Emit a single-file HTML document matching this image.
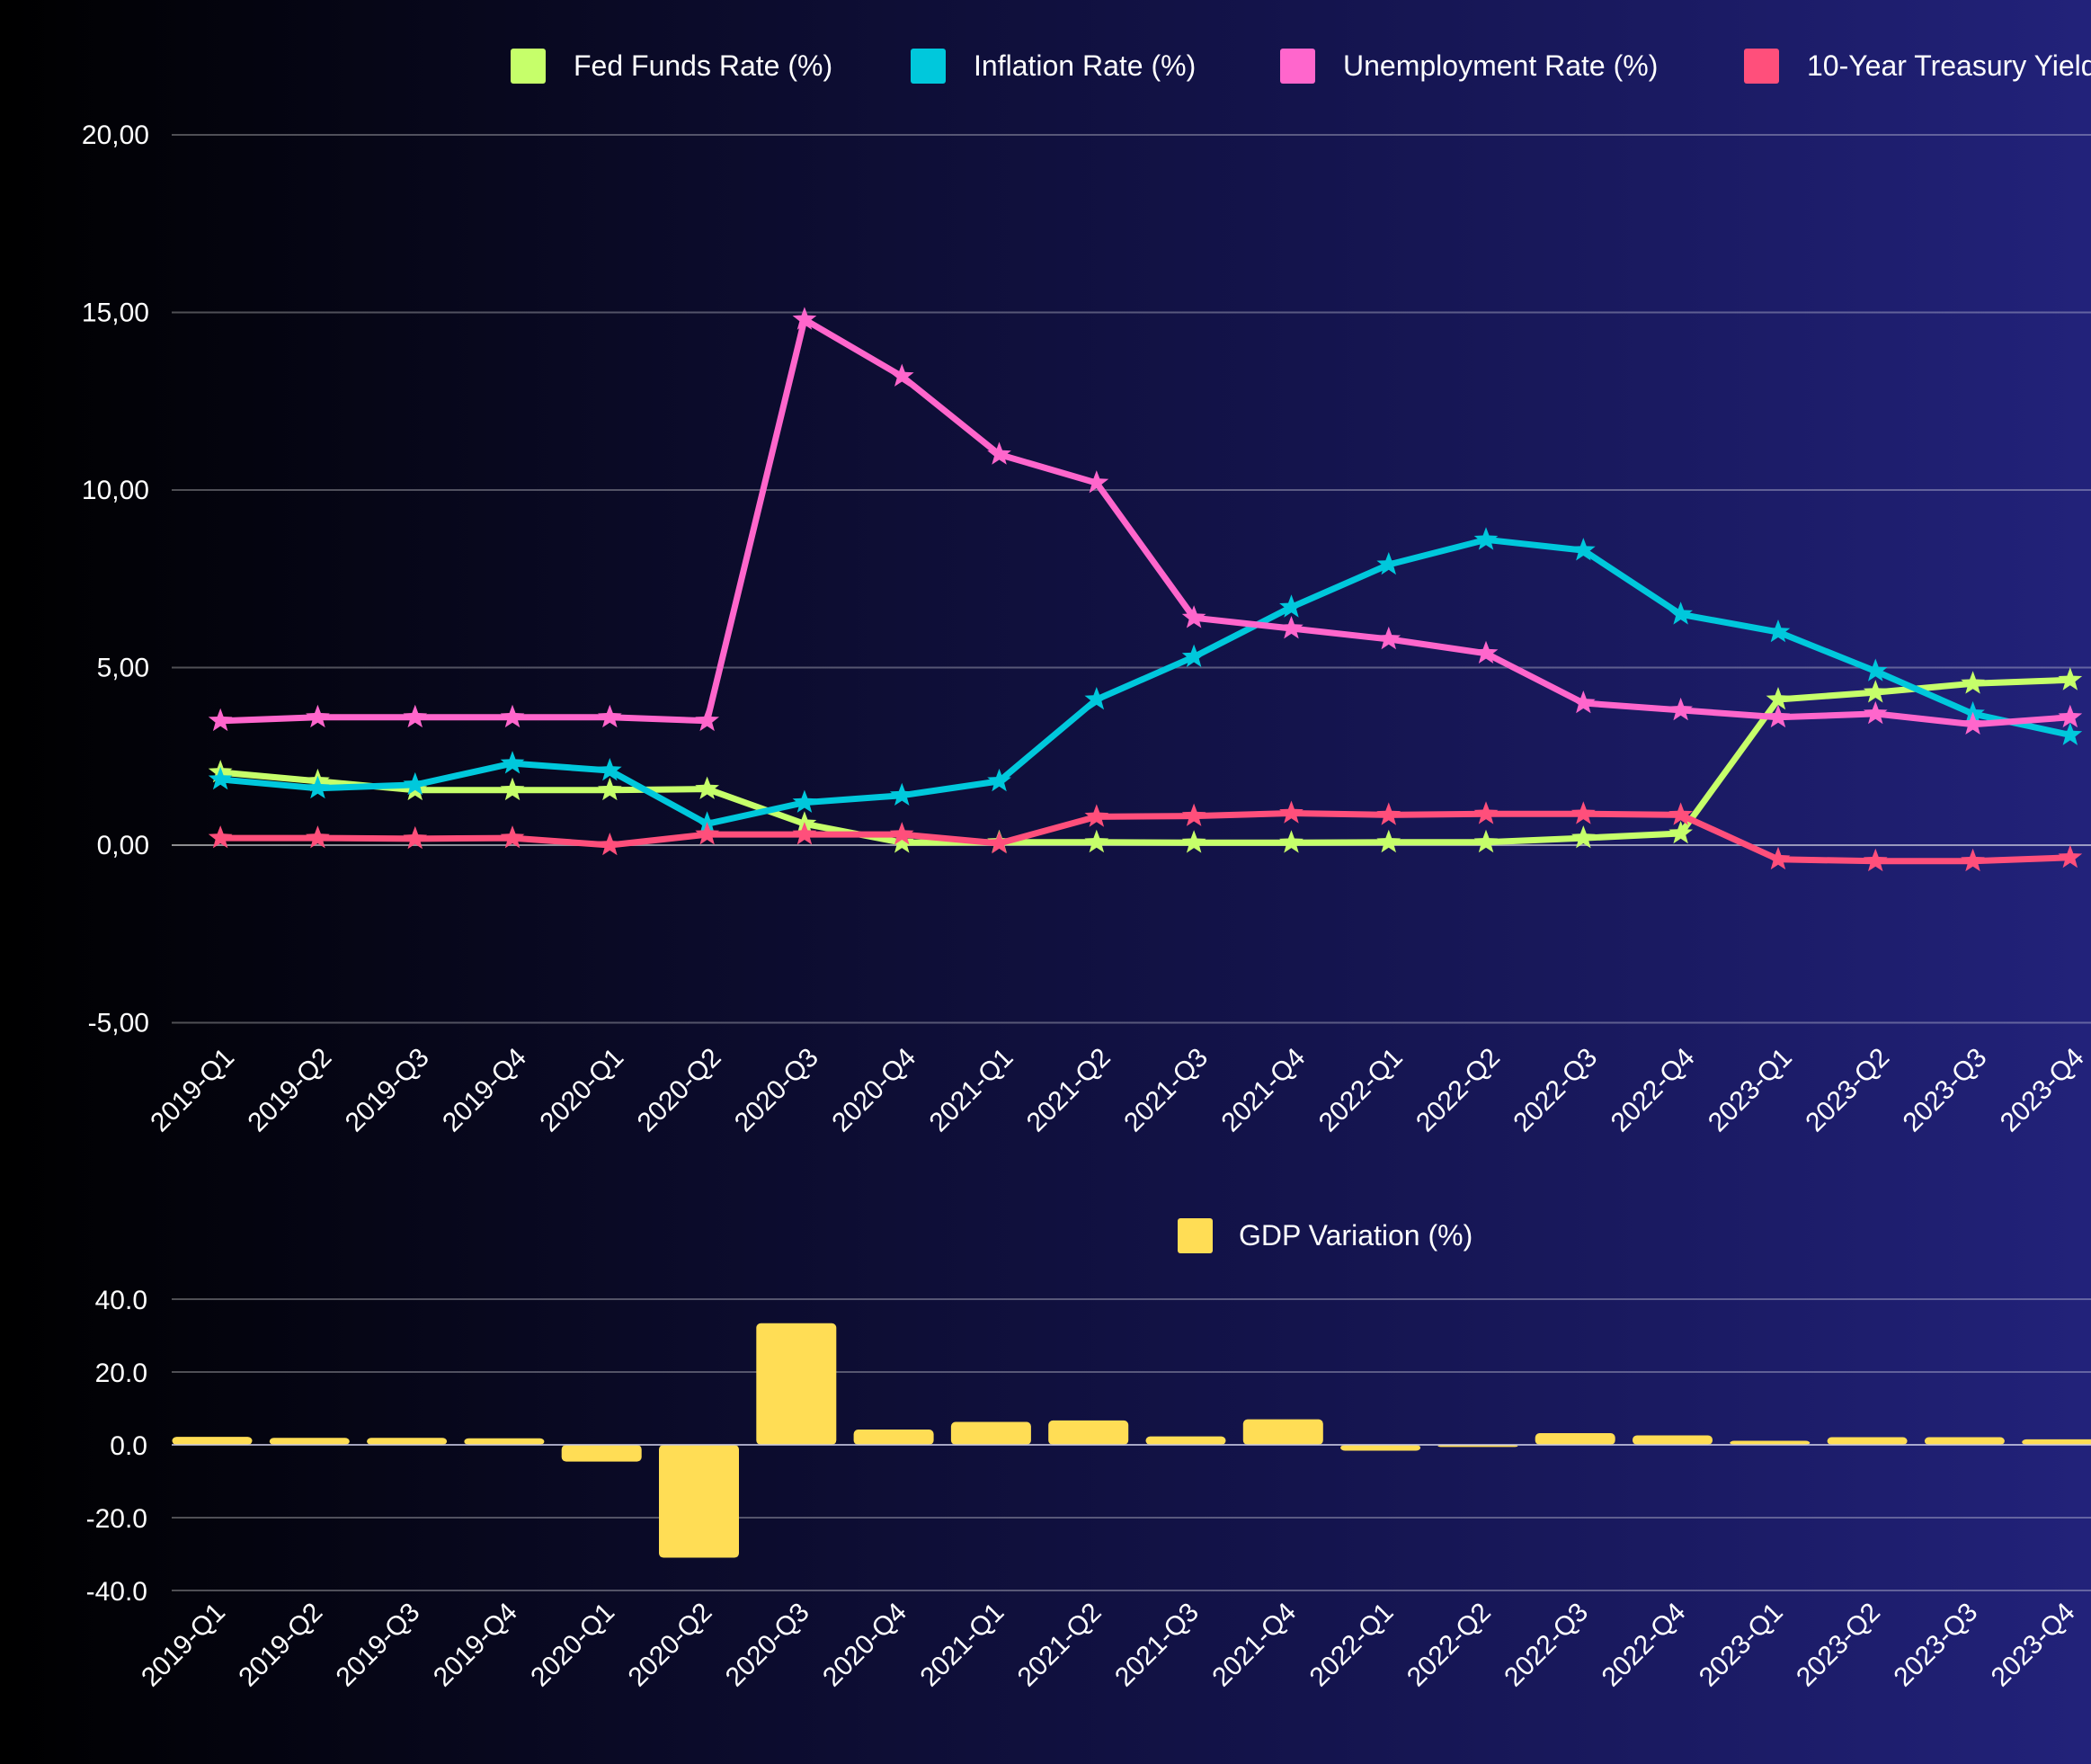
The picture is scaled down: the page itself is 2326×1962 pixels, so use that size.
<!DOCTYPE html>
<html><head><meta charset="utf-8">
<style>
html,body{margin:0;padding:0;width:2326px;height:1962px;overflow:hidden;background:linear-gradient(90deg,#000000 0%,#0a0a26 30%,#13134a 60%,#1c1c68 85%,#22227a 100%);font-family:"Liberation Sans",sans-serif;}
svg{position:absolute;left:0;top:0;}
text{font-family:"Liberation Sans",sans-serif;fill:#ffffff;}
</style></head>
<body>
<svg id="chart" width="2326" height="1962"></svg>
<script>
const categories=["2019-Q1","2019-Q2","2019-Q3","2019-Q4","2020-Q1","2020-Q2","2020-Q3","2020-Q4","2021-Q1","2021-Q2","2021-Q3","2021-Q4","2022-Q1","2022-Q2","2022-Q3","2022-Q4","2023-Q1","2023-Q2","2023-Q3","2023-Q4"];
const fedFunds=[2.05,1.8,1.55,1.55,1.55,1.58,0.6,0.07,0.08,0.08,0.07,0.07,0.08,0.08,0.2,0.33,4.1,4.3,4.55,4.65];
const inflation=[1.85,1.6,1.7,2.3,2.1,0.6,1.2,1.4,1.8,4.1,5.3,6.7,7.9,8.6,8.3,6.5,6.0,4.9,3.7,3.1];
const unemployment=[3.5,3.6,3.6,3.6,3.6,3.5,14.8,13.2,11.0,10.2,6.4,6.1,5.8,5.4,4.0,3.8,3.6,3.7,3.4,3.6];
const treasury=[0.2,0.2,0.18,0.2,0.0,0.3,0.3,0.3,0.05,0.8,0.82,0.9,0.85,0.88,0.88,0.85,-0.4,-0.45,-0.45,-0.35];
const gdp=[2.2,1.9,1.9,1.8,-4.6,-31.0,33.4,4.2,6.3,6.7,2.3,7.0,-1.6,-0.6,3.2,2.6,1.1,2.1,2.1,1.5];
const topTicks=[20,15,10,5,0,-5];
const topTickLabels=["20,00","15,00","10,00","5,00","0,00","-5,00"];
const botTicks=[40,20,0,-20,-40];
const botTickLabels=["40.0","20.0","0.0","-20.0","-40.0"];
const seriesNames=["Fed Funds Rate (%)","Inflation Rate (%)","Unemployment Rate (%)","10-Year Treasury Yield (%)"];
const seriesColors=["#c6ff6a","#00c8dc","#ff66cc","#ff4f7b"];

const NS="http://www.w3.org/2000/svg";
const svg=document.getElementById('chart');
function mk(tag,attrs,parent){const e=document.createElementNS(NS,tag);for(const k in attrs)e.setAttribute(k,attrs[k]);(parent||svg).appendChild(e);return e;}
const band=108.3, x0=191;
function xTop(i){return x0+(i+0.5)*band;}
function yTop(v){return 940-v*39.5;}
function xBot(i){return 236+i*108.3;}
function yBot(v){return 1607-v*4.05;}
function star(cx,cy,r){let p=[];for(let k=0;k<10;k++){const a=-Math.PI/2+k*Math.PI/5;const rr=k%2?r*0.42:r;p.push((cx+rr*Math.cos(a)).toFixed(1)+","+(cy+rr*Math.sin(a)).toFixed(1));}return p.join(" ");}

topTicks.forEach((t,i)=>{
  const l=mk('line',{x1:191,x2:2326,y1:yTop(t),y2:yTop(t),stroke:t===0?'rgba(255,255,255,0.55)':'rgba(255,255,255,0.3)','stroke-width':2});
  
  
  const tx=mk('text',{x:166,y:yTop(t)+10,'text-anchor':'end','font-size':30});
  tx.textContent=topTickLabels[i];
  
  
});
categories.forEach((c,i)=>{
  const tx=mk('text',{x:0,y:0,'text-anchor':'end','font-size':30,transform:`translate(${xTop(i)+17},${1178}) rotate(-45)`});
  tx.textContent=c;
  
  
});
const allSeries=[fedFunds,inflation,unemployment,treasury];
allSeries.forEach((s,si)=>{
  const g=mk('g',{});
  
  
  const pts=s.map((v,i)=>xTop(i).toFixed(1)+","+yTop(v).toFixed(1)).join(" ");
  const pl=mk('polyline',{points:pts,fill:'none',stroke:seriesColors[si],'stroke-width':7,'stroke-linejoin':'round'},g);
  
  
  s.forEach((v,i)=>{
    const m=mk('polygon',{points:star(xTop(i),yTop(v),14),fill:seriesColors[si]},g);
    
    
  });
});
const legX=[568,1013,1424,1940];
seriesNames.forEach((n,i)=>{
  const r=mk('rect',{x:legX[i],y:54,width:39,height:39,rx:3,fill:seriesColors[i]});
  
  
  const t=mk('text',{x:legX[i]+70,y:84,'font-size':32});
  t.textContent=n;
  
  
});
botTicks.forEach((t,i)=>{
  const l=mk('line',{x1:191,x2:2326,y1:yBot(t),y2:yBot(t),stroke:'rgba(255,255,255,0.3)','stroke-width':2});
  
  
  const tx=mk('text',{x:164,y:yBot(t)+11,'text-anchor':'end','font-size':30});
  tx.textContent=botTickLabels[i];
  
  
});
gdp.forEach((v,i)=>{
  const y1=yBot(Math.max(v,0)), y2=yBot(Math.min(v,0));
  const b=mk('rect',{x:xBot(i)-44.5,y:y1,width:89,height:Math.max(y2-y1,1),rx:5,fill:'#ffdd55'});
  
  
});
const zl=mk('line',{x1:191,x2:2326,y1:yBot(0),y2:yBot(0),stroke:'rgba(200,200,230,0.7)','stroke-width':2});


categories.forEach((c,i)=>{
  const tx=mk('text',{x:0,y:0,'text-anchor':'end','font-size':30,transform:`translate(${xBot(i)+16},${1795}) rotate(-45)`});
  tx.textContent=c;
  
  
});
const gr=mk('rect',{x:1310,y:1355,width:39,height:39,rx:3,fill:'#ffdd55'});


const gt=mk('text',{x:1378,y:1385,'font-size':32});
gt.textContent="GDP Variation (%)";


</script>
</body></html>
